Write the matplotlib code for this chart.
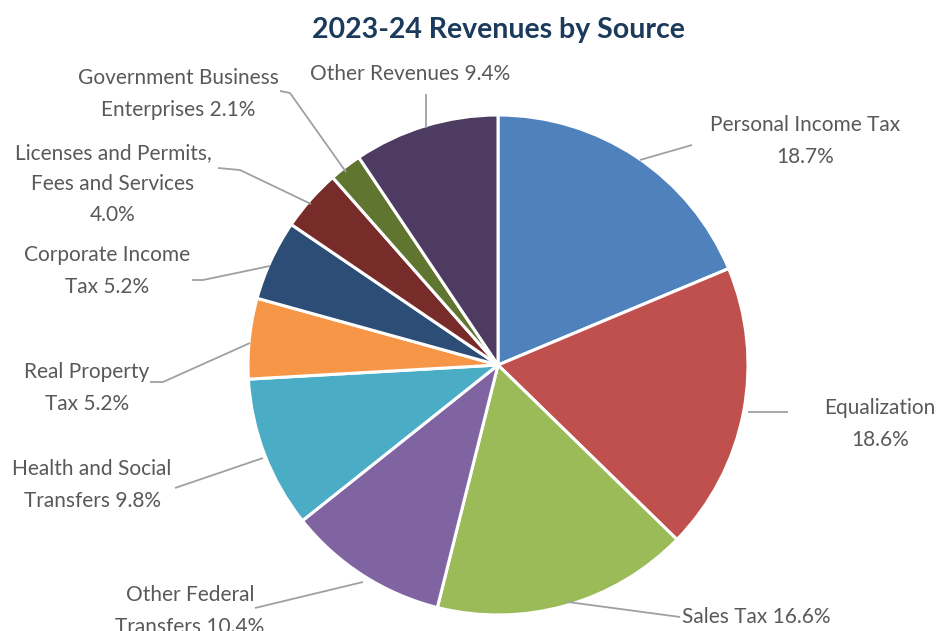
#!/usr/bin/env python3
"""Pie chart of 2023-24 revenues by source."""

import matplotlib
matplotlib.use("Agg")
import matplotlib.pyplot as plt

SOURCES = [
    "Personal Income Tax",
    "Equalization",
    "Sales Tax",
    "Other Federal Transfers",
    "Health and Social Transfers",
    "Real Property Tax",
    "Corporate Income Tax",
    "Licenses and Permits, Fees and Services",
    "Government Business Enterprises",
    "Other Revenues",
]
SHARES = [18.7, 18.6, 16.6, 10.4, 9.8, 5.2, 5.2, 4.0, 2.1, 9.4]
COLORS = [
    "#4F81BD", "#C0504D", "#9BBB59", "#8064A2", "#4BACC6",
    "#F79646", "#2C4D75", "#772C2A", "#5F7530", "#4D3B62",
]
# label text templates, the share is filled in from SHARES
LABEL_FMT = [
    "Personal Income Tax\n{:.1f}%",
    "Equalization\n{:.1f}%",
    "Sales Tax {:.1f}%",
    "Other Federal\nTransfers {:.1f}%",
    "Health and Social\nTransfers {:.1f}%",
    "Real Property\nTax {:.1f}%",
    "Corporate Income\nTax {:.1f}%",
    "Licenses and Permits,\nFees and Services\n{:.1f}%",
    "Government Business\nEnterprises {:.1f}%",
    "Other Revenues {:.1f}%",
]

W, H = 938, 631
CX, CY, R = 498, 365, 250

# text anchor (x, y, ha) and leader line points, in pixel coords (y down)
LABEL_POS = [
    (805, 141, "center"),
    (880, 424, "center"),
    (682, 617, "left"),
    (190, 611, "center"),
    (92, 485, "center"),
    (87, 388, "center"),
    (107, 271, "center"),
    (113, 184, "center"),
    (178, 94, "center"),
    (410, 74, "center"),
]
LEADERS = [
    [(640, 160), (692, 145)],
    [(748, 412), (788, 412)],
    [(568, 602), (680, 617)],
    [(363, 582), (255, 608)],
    [(263, 458), (175, 488)],
    [(250, 343), (163, 382), (150, 382)],
    [(270, 266), (203, 280), (192, 280)],
    [(311, 204), (240, 170), (218, 168)],
    [(346, 172), (290, 93), (280, 91)],
    [(426, 128), (426, 94)],
]

plt.rcParams["font.family"] = ["Lato", "DejaVu Sans"]

fig = plt.figure(figsize=(W / 100, H / 100), dpi=100)
ax = fig.add_axes([0, 0, 1, 1])

ax.pie(
    SHARES,
    colors=COLORS,
    startangle=90,
    counterclock=False,
    center=(CX, H - CY),
    radius=R,
    wedgeprops={"edgecolor": "white", "linewidth": 2.2},
    frame=True,
)
ax.set_xlim(0, W)
ax.set_ylim(0, H)
ax.set_aspect("equal")
ax.axis("off")

for fmt, share, (tx, ty, ha), pts in zip(LABEL_FMT, SHARES, LABEL_POS, LEADERS):
    xs = [p[0] for p in pts]
    ys = [H - p[1] for p in pts]
    ax.plot(xs, ys, color="#A0A0A0", linewidth=1.3, solid_capstyle="butt")
    ax.text(tx, H - ty, fmt.format(share), ha=ha, va="center",
            fontsize=15, color="#595959", linespacing=1.7)

ax.text(498, H - 30, "2023-24 Revenues by Source", ha="center", va="center",
        fontsize=20.5, fontweight="bold", color="#1B3A5C")

fig.savefig("out.png", dpi=100, facecolor="white")
